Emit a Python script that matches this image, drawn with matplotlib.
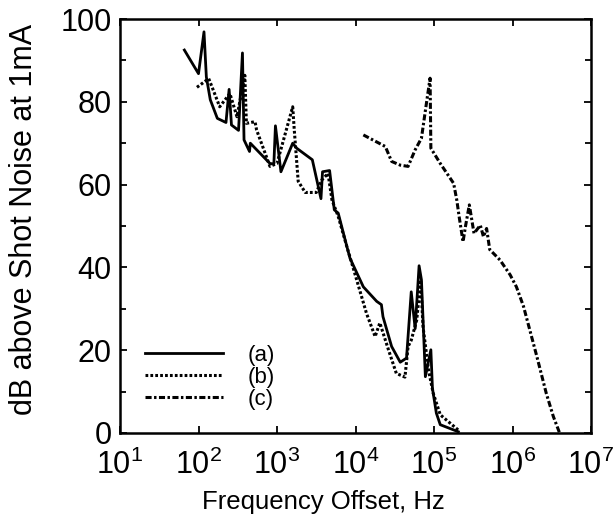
import numpy as np
import matplotlib
matplotlib.use('Agg')
import matplotlib.pyplot as plt
from matplotlib.ticker import MultipleLocator, FixedLocator

plt.rcParams['font.family'] = ['Liberation Sans', 'DejaVu Sans']
plt.rcParams['mathtext.fontset'] = 'custom'
plt.rcParams['mathtext.rm'] = 'Liberation Sans'
plt.rcParams['mathtext.it'] = 'Liberation Sans'

# Curva (a): log10 de la frecuencia y dB sobre el ruido de disparo
log_f_a = [1.82, 2.00, 2.07, 2.10, 2.15, 2.24, 2.35, 2.39, 2.42, 2.51, 2.56, 2.58,
           2.65, 2.66, 2.91, 2.96, 2.98, 3.05, 3.20, 3.25, 3.45, 3.56, 3.58, 3.67,
           3.73, 3.78, 3.87, 3.93, 4.10, 4.27, 4.33, 4.35, 4.46, 4.57, 4.65, 4.71,
           4.76, 4.81, 4.84, 4.89, 4.96, 4.98, 5.03, 5.08, 5.31]
db_a = [92.5, 86.8, 96.9, 86.0, 80.5, 76.0, 75.0, 83.0, 74.4, 73.1, 91.8, 70.8,
        68.0, 70.0, 65.1, 65.0, 74.2, 63.1, 70.0, 68.8, 66.0, 56.6, 63.1, 63.4,
        53.9, 53.1, 46.5, 42.2, 35.3, 31.8, 31.0, 28.1, 20.9, 17.1, 18.1, 34.1,
        25.2, 40.4, 37.0, 13.6, 20.1, 10.8, 4.8, 2.0, 0.3]

# Curva (b)
log_f_b = [1.98, 2.13, 2.17, 2.27, 2.40, 2.49, 2.59, 2.61, 2.72, 2.74, 2.91, 3.00,
           3.20, 3.22, 3.27, 3.36, 3.50, 3.57, 3.65, 3.70, 3.78, 3.89, 3.97, 4.14,
           4.25, 4.31, 4.42, 4.52, 4.63, 4.67, 4.71, 4.78, 4.83, 4.86, 4.93, 4.99,
           5.08, 5.31]
db_b = [83.5, 85.6, 83.7, 78.8, 82.0, 76.4, 86.4, 74.8, 75.2, 73.2, 64.4, 65.1,
        78.8, 73.2, 60.8, 58.1, 58.1, 61.1, 62.7, 56.3, 52.3, 45.0, 39.9, 28.9,
        23.3, 26.6, 20.1, 14.4, 13.5, 20.9, 22.4, 27.3, 37.0, 25.7, 15.2, 9.6,
        4.4, 0.7]

# Curva (c)
log_f_c = [4.10, 4.38, 4.46, 4.57, 4.67, 4.76, 4.84, 4.91, 4.95, 4.96, 5.08, 5.25,
           5.29, 5.32, 5.37, 5.40, 5.45, 5.51, 5.59, 5.63, 5.67, 5.71, 5.84, 5.97,
           6.05, 6.14, 6.31, 6.43, 6.52, 6.60]
db_c = [72.0, 69.2, 65.6, 64.7, 64.4, 68.4, 71.2, 80.5, 85.7, 68.8, 65.1, 60.3,
        56.3, 52.3, 46.2, 49.8, 55.1, 48.2, 50.2, 47.4, 49.4, 44.3, 41.8, 38.2,
        35.3, 30.6, 18.5, 9.6, 4.0, 0.0]

etiquetas = ['(a)', '(b)', '(c)']

fig = plt.figure(figsize=(6.16, 5.25), dpi=100)
ax = fig.add_axes([120/616, 1 - 433/525, 471/616, 414/525])

f_a = 10 ** np.array(log_f_a)
f_b = 10 ** np.array(log_f_b)
f_c = 10 ** np.array(log_f_c)

ax.plot(f_a, db_a, color='black', lw=2.0, linestyle='-', label=etiquetas[0])
ax.plot(f_b, db_b, color='black', lw=2.2, linestyle=(0, (0.9, 0.7)), label=etiquetas[1])
ax.plot(f_c, db_c, color='black', lw=2.2, linestyle=(0, (2.0, 0.8, 0.8, 0.8)), label=etiquetas[2])

ax.set_xscale('log')
ax.set_xlim(1e1, 1e7)
ax.set_ylim(0, 100)
ax.xaxis.set_major_locator(FixedLocator([1e1, 1e2, 1e3, 1e4, 1e5, 1e6, 1e7]))
ax.xaxis.set_minor_locator(plt.NullLocator())
ax.set_xticklabels([r'$\mathregular{10^{%d}}$' % k for k in range(1, 8)])
ax.yaxis.set_major_locator(MultipleLocator(20))
ax.yaxis.set_minor_locator(MultipleLocator(10))

ax.tick_params(which='both', direction='in', top=True, right=True, width=1.3,
               labelsize=22)
ax.tick_params(which='major', length=5)
ax.tick_params(which='minor', length=4)
ax.tick_params(axis='x', pad=12)
ax.tick_params(axis='y', pad=6)
for s in ax.spines.values():
    s.set_linewidth(1.8)

ax.set_xlabel('Frequency Offset, Hz', fontsize=18.5)
ax.set_ylabel('dB above Shot Noise at 1mA', fontsize=22)
ax.xaxis.set_label_coords(0.431, -0.138)
ax.yaxis.set_label_coords(-0.172, 0.515)

ax.legend(loc='lower left', bbox_to_anchor=(0.053, 0.055), frameon=False,
          fontsize=16, handlelength=3.5, handletextpad=1.1, labelspacing=0.05,
          borderaxespad=0.0, borderpad=0.0)

plt.savefig('out.png', dpi=100)
plt.close()
